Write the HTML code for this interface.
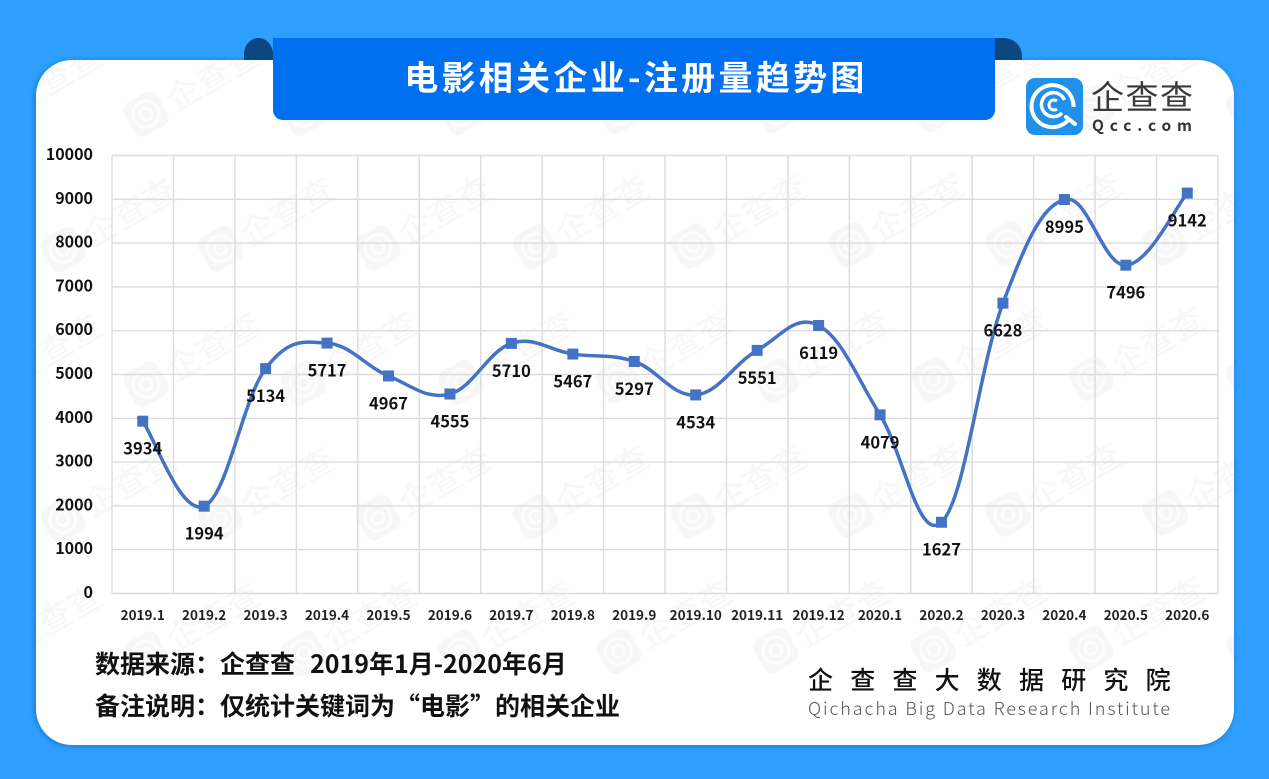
<!DOCTYPE html>
<html lang="zh-CN">
<head>
<meta charset="utf-8">
<title>电影相关企业-注册量趋势图</title>
<style>
  html, body { margin: 0; padding: 0; width: 1269px; height: 779px; overflow: hidden; background: #2e9fff; }
  svg { display: block; }
  text { font-family: "Noto Sans CJK SC", "Liberation Sans", sans-serif; }
</style>
</head>
<body>
<svg id="stage" xmlns="http://www.w3.org/2000/svg" width="1269" height="779" viewBox="0 0 1269 779">
  <defs>
    <filter id="card-shadow" x="-5%" y="-5%" width="110%" height="110%">
      <feDropShadow dx="-1" dy="1" stdDeviation="3" flood-color="#0f5ea8" flood-opacity="0.65"/>
    </filter>
    <clipPath id="card-clip"><rect x="36" y="60" width="1198" height="685" rx="36" ry="36"/></clipPath>
  </defs>

  <rect x="0" y="0" width="1269" height="779" fill="#2e9fff"/>
  <rect x="36" y="60" width="1198" height="685" rx="36" ry="36" fill="#ffffff" filter="url(#card-shadow)"/>

  <g id="watermarks" clip-path="url(#card-clip)"></g>

  <path d="M244 60 V54 A14.500 16 0 0 1 273 54 V60 Z" fill="#0a4680"/>
  <path d="M995 38 H1004 A18 18 0 0 1 1022 56 V60 H995 Z" fill="#0a4680"/>
  <path d="M273 38 H995 V110 A10 10 0 0 1 985 120 H283 A10 10 0 0 1 273 110 Z" fill="#0070f0"/>
  <text x="636" y="90" text-anchor="middle" font-size="34" font-weight="700" fill="#ffffff" letter-spacing="3.300">电影相关企业-注册量趋势图</text>

  <g>
    <rect x="1026" y="78" width="57" height="57" rx="9" fill="#2090ea"/>
    <path d="M1069.500 118.500 A21 21 0 1 1 1073.500 107" fill="none" stroke="#ffffff" stroke-width="4"/>
    <path d="M1066 117 L1075 124" fill="none" stroke="#ffffff" stroke-width="4" stroke-linecap="round"/>
    <path d="M1062 113 A12 12 0 1 1 1064.500 100" fill="none" stroke="#ffffff" stroke-width="3.500"/>
    <path d="M1057 109 A5 5 0 1 1 1057 101" fill="none" stroke="#ffffff" stroke-width="3"/>
    <text x="1091" y="109" font-size="33" font-weight="400" fill="#3a3a3a" letter-spacing="1.500">企查查</text>
    <text x="1092" y="131" font-size="15.500" font-weight="700" fill="#333333" textLength="100" lengthAdjust="spacing">Qcc.com</text>
  </g>

  <g id="chart">
    <g id="grid"></g>
    <g id="y-axis"></g>
    <g id="x-axis"></g>
    <g id="series"></g>
  </g>

  <text x="95" y="673" font-size="25" font-weight="700" fill="#111111">数据来源：企查查<tspan x="310">2019年1月-2020年6月</tspan></text>
  <text x="95" y="715" font-size="25" font-weight="700" fill="#111111">备注说明：仅统计关键词为“电影”的相关企业</text>

  <text x="808" y="689" font-size="25" font-weight="500" fill="#111111" letter-spacing="17.200">企查查大数据研究院</text>
  <text x="808" y="715" font-size="18" font-weight="300" fill="#555555" textLength="362" lengthAdjust="spacing">Qichacha Big Data Research Institute</text>

<script>
var categories = ["2019.1","2019.2","2019.3","2019.4","2019.5","2019.6","2019.7","2019.8","2019.9","2019.10","2019.11","2019.12","2020.1","2020.2","2020.3","2020.4","2020.5","2020.6"];
var registrations = [3934,1994,5134,5717,4967,4555,5710,5467,5297,4534,5551,6119,4079,1627,6628,8995,7496,9142];
var yTickValues = [0,1000,2000,3000,4000,5000,6000,7000,8000,9000,10000];

var NS = "http://www.w3.org/2000/svg";
var plotLeft = 112, plotRight = 1218, plotTop = 155.5, plotBottom = 593.5;
var yMax = 10000;

function xScale(i) {
  return plotLeft + (plotRight - plotLeft) * (i + 0.5) / categories.length;
}
function bandEdge(i) {
  return plotLeft + (plotRight - plotLeft) * i / categories.length;
}
function yScale(v) {
  return plotBottom - (plotBottom - plotTop) * v / yMax;
}
function make(tag, attrs, parent, content) {
  var el = document.createElementNS(NS, tag);
  for (var k in attrs) { el.setAttribute(k, attrs[k]); }
  if (content !== undefined) { el.textContent = content; }
  parent.appendChild(el);
  return el;
}

var gridLayer = document.getElementById("grid");
var yAxisLayer = document.getElementById("y-axis");
var xAxisLayer = document.getElementById("x-axis");
var seriesLayer = document.getElementById("series");
var watermarkLayer = document.getElementById("watermarks");

/* watermark tiles */
for (var r = 0; r < 5; r++) {
  for (var c = -1; c < 9; c++) {
    var wx = (r % 2 === 0 ? 146 : 63) + c * 157.5;
    var wy = 115 + r * 135 - wx * 0.006;
    var tile = make("g", { transform: "translate(" + wx + " " + wy + ") rotate(-30)" }, watermarkLayer);
    
    
    make("rect", { x: -19, y: -19, width: 38, height: 38, rx: 9, fill: "#f7f7f7" }, tile);
    make("circle", { cx: 0, cy: 0, r: 13, fill: "none", stroke: "#fdfdfd", "stroke-width": 3 }, tile);
    make("circle", { cx: 0, cy: 0, r: 6, fill: "none", stroke: "#fdfdfd", "stroke-width": 2.5 }, tile);
    make("text", { x: 26, y: 13, "font-size": 33, "font-weight": 500, fill: "#f8f8f8", "letter-spacing": 1 }, tile, "企查查");
  }
}

/* gridlines */
yTickValues.forEach(function (v) {
  var line = make("line", { x1: plotLeft, x2: plotRight, y1: yScale(v), y2: yScale(v), stroke: "#dcdcdc", "stroke-width": 1.4 }, gridLayer);
  
  
});
for (var g = 0; g <= categories.length; g++) {
  var vLine = make("line", { x1: bandEdge(g), x2: bandEdge(g), y1: plotTop, y2: plotBottom, stroke: "#dcdcdc", "stroke-width": 1.4 }, gridLayer);
  
  
}

/* y tick labels */
yTickValues.forEach(function (v) {
  var t = make("text", { x: 93, y: yScale(v) + 4.5, "text-anchor": "end", "font-size": 16, "font-weight": 700, fill: "#111111" }, yAxisLayer, String(v));
  
  
});

/* x tick labels */
categories.forEach(function (label, i) {
  var t = make("text", { x: xScale(i), y: 620, "text-anchor": "middle", "font-size": 13.5, "font-weight": 700, fill: "#222222" }, xAxisLayer, label);
  
  
});

/* smoothed line */
var pts = registrations.map(function (v, i) { return [xScale(i), yScale(v)]; });
var d = "M" + pts[0][0] + " " + pts[0][1];
var smooth = 0.19;
for (var s = 0; s < pts.length - 1; s++) {
  var p0 = pts[Math.max(s - 1, 0)], p1 = pts[s], p2 = pts[s + 1], p3 = pts[Math.min(s + 2, pts.length - 1)];
  var c1x = p1[0] + (p2[0] - p0[0]) * smooth, c1y = p1[1] + (p2[1] - p0[1]) * smooth;
  var c2x = p2[0] - (p3[0] - p1[0]) * smooth, c2y = p2[1] - (p3[1] - p1[1]) * smooth;
  d += " C" + c1x + " " + c1y + " " + c2x + " " + c2y + " " + p2[0] + " " + p2[1];
}
var seriesLine = make("path", { d: d, fill: "none", stroke: "#4472c4", "stroke-width": 3.5, "stroke-linejoin": "round", "stroke-linecap": "round" }, seriesLayer);



/* markers and value labels */
registrations.forEach(function (v, i) {
  var m = make("rect", { x: xScale(i) - 5.5, y: yScale(v) - 5.5, width: 11, height: 11, fill: "#4472c4" }, seriesLayer);
  
  
});
registrations.forEach(function (v, i) {
  var t = make("text", { x: xScale(i), y: yScale(v) + 33.5, "text-anchor": "middle", "font-size": 16.5, "font-weight": 700, fill: "#111111" }, seriesLayer, String(v));
  
  
});
</script>
</svg>
</body>
</html>
